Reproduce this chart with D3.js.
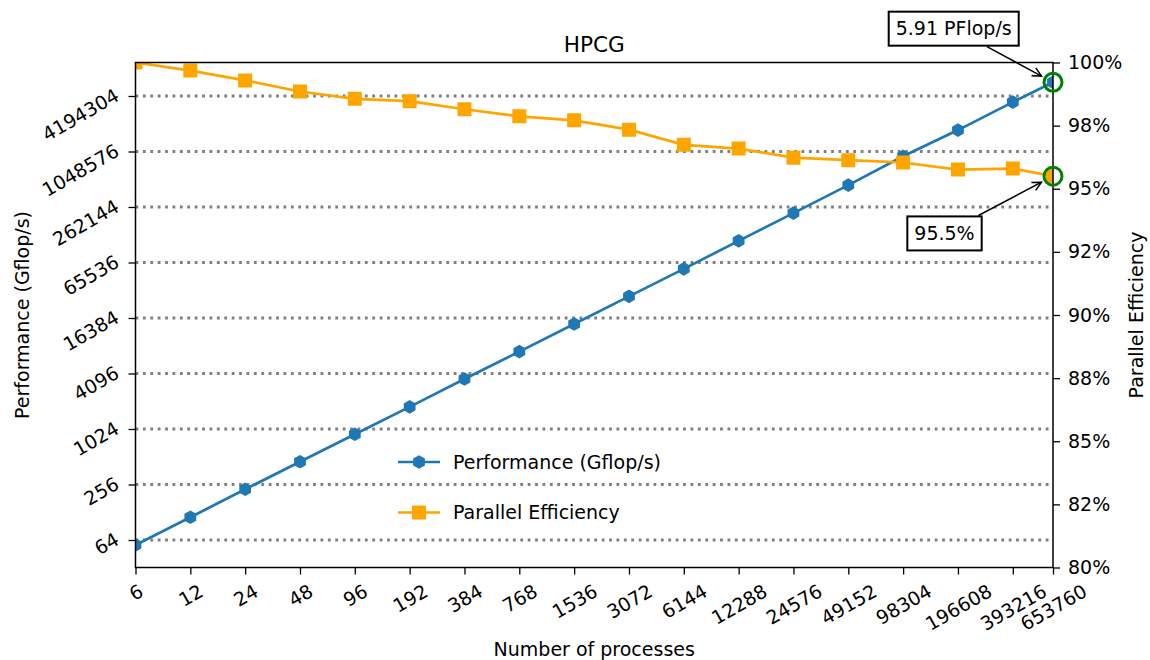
<!DOCTYPE html>
<html>
<head>
<meta charset="utf-8">
<script src="https://cdn.jsdelivr.net/npm/d3@7"></script>
<style>
  html, body { margin: 0; padding: 0; background: #fff; }
  svg { display: block; font-family: "DejaVu Sans", sans-serif; }
</style>
</head>
<body>
<svg id="chart" width="1150" height="660"></svg>
<script>
// HPCG weak scaling: performance and parallel efficiency vs. process count
const procs = [6, 12, 24, 48, 96, 192, 384, 768, 1536, 3072, 6144, 12288, 24576, 49152, 98304, 196608, 393216, 653760];
const perfGflops = [56.5, 113, 227, 452, 898, 1780, 3570, 7080, 14100, 28100, 55900, 112500, 225000, 453000, 930000, 1790000, 3600000, 5910000];
const efficiency = [100, 99.68, 99.29, 98.85, 98.56, 98.47, 98.15, 97.87, 97.71, 97.34, 96.74, 96.59, 96.23, 96.13, 96.04, 95.76, 95.80, 95.5];
const perfTicks = [64, 256, 1024, 4096, 16384, 65536, 262144, 1048576, 4194304];
const effTicks = [80, 82.5, 85, 87.5, 90, 92.5, 95, 97.5, 100];
const effTickLabels = ["80%", "82%", "85%", "88%", "90%", "92%", "95%", "98%", "100%"];
const seriesNames = ["Performance (Gflop/s)", "Parallel Efficiency"];
const peakLabel = "5.91 PFlop/s";
const effLabel = "95.5%";

const W = 1150, H = 660;
const area = { left: 135.5, right: 1053, top: 62.5, bottom: 567.5 };
const BLUE = "#1f77b4", ORANGE = "#ffa500", GREEN = "#008000", GRID = "#808080";
const FS = 19;

const svg = d3.select("#chart");
svg.append("rect").attr("width", W).attr("height", H).attr("fill", "#fff");

const x = d3.scaleLog().base(2).domain([procs[0], procs[procs.length - 1]]).range([area.left, area.right]);
const yPerf = d3.scaleLog().base(2).domain([32.2, 9.683e6]).range([area.bottom, area.top]);
const yEff = d3.scaleLinear().domain([80, 100]).range([area.bottom, area.top]);

svg.append("defs").append("clipPath").attr("id", "plotclip")
  .append("rect")
  .attr("x", area.left).attr("y", area.top)
  .attr("width", area.right - area.left).attr("height", area.bottom - area.top);

// dotted horizontal grid at the performance ticks
svg.append("g").selectAll("line").data(perfTicks).join("line")
  .attr("x1", area.left).attr("x2", area.right)
  .attr("y1", d => yPerf(d)).attr("y2", d => yPerf(d))
  .attr("stroke", GRID).attr("stroke-width", 2.8)
  .attr("stroke-dasharray", "2.8,4.6");

const data = procs.map((p, i) => ({ p, perf: perfGflops[i], eff: efficiency[i] }));

function hexPath(r) {
  const pts = d3.range(6).map(k => {
    const a = Math.PI / 2 + k * Math.PI / 3;
    return [r * Math.cos(a), r * Math.sin(a)];
  });
  return "M" + pts.map(p => p.join(",")).join("L") + "Z";
}
const squarePath = s => `M${-s / 2},${-s / 2}h${s}v${s}h${-s}Z`;

const plotG = svg.append("g").attr("clip-path", "url(#plotclip)");

// performance series
plotG.append("path").datum(data)
  .attr("fill", "none").attr("stroke", BLUE).attr("stroke-width", 2.7)
  .attr("d", d3.line().x(d => x(d.p)).y(d => yPerf(d.perf)));
plotG.append("g").selectAll("path").data(data).join("path")
  .attr("transform", d => `translate(${x(d.p)},${yPerf(d.perf)})`)
  .attr("d", hexPath(6.8)).attr("fill", BLUE);

// efficiency series
plotG.append("path").datum(data)
  .attr("fill", "none").attr("stroke", ORANGE).attr("stroke-width", 2.7)
  .attr("d", d3.line().x(d => x(d.p)).y(d => yEff(d.eff)));
plotG.append("g").selectAll("path").data(data).join("path")
  .attr("transform", d => `translate(${x(d.p)},${yEff(d.eff)})`)
  .attr("d", squarePath(14)).attr("fill", ORANGE);

// axes
function styleAxis(g) {
  g.select(".domain").remove();
  g.selectAll(".tick line").attr("stroke", "#000").attr("stroke-width", 1.3);
  g.selectAll(".tick text").attr("fill", "#000").attr("font-size", FS)
    .attr("font-family", "DejaVu Sans");
}

const xAxis = svg.append("g").attr("transform", `translate(0,${area.bottom})`)
  .call(d3.axisBottom(x).tickValues(procs).tickSize(7).tickFormat(d => String(d)))
  .call(styleAxis);
xAxis.selectAll(".tick text").each(function () {
  const t = d3.select(this);
  t.attr("y", null).attr("dy", null)
    .attr("text-anchor", "middle").attr("dominant-baseline", "central");
  const w = this.getComputedTextLength();
  const bh = w * 0.5 + 22 * 0.866;
  t.attr("transform", `translate(0,${12 + bh / 2}) rotate(-30)`);
});

const yAxisL = svg.append("g").attr("transform", `translate(${area.left},0)`)
  .call(d3.axisLeft(yPerf).tickValues(perfTicks).tickSize(7).tickFormat(d => String(d)))
  .call(styleAxis);
yAxisL.selectAll(".tick text")
  .attr("x", 0).attr("dy", 0).attr("text-anchor", "end")
  .attr("transform", "translate(-15,3) rotate(-30)");

svg.append("g").attr("transform", `translate(${area.right},0)`)
  .call(d3.axisRight(yEff).tickValues(effTicks).tickSize(7).tickPadding(8)
    .tickFormat((d, i) => effTickLabels[i]))
  .call(styleAxis);

// frame
svg.append("rect")
  .attr("x", area.left).attr("y", area.top)
  .attr("width", area.right - area.left).attr("height", area.bottom - area.top)
  .attr("fill", "none").attr("stroke", "#000").attr("stroke-width", 1.5);

// titles
svg.append("text").attr("x", (area.left + area.right) / 2).attr("y", 52)
  .attr("text-anchor", "middle").attr("font-size", 21.6).text("HPCG");
svg.append("text").attr("x", (area.left + area.right) / 2).attr("y", 656)
  .attr("text-anchor", "middle").attr("font-size", FS).text("Number of processes");
svg.append("text")
  .attr("transform", `translate(29,${(area.top + area.bottom) / 2}) rotate(-90)`)
  .attr("text-anchor", "middle").attr("font-size", FS).text(seriesNames[0]);
svg.append("text")
  .attr("transform", `translate(1143,${(area.top + area.bottom) / 2}) rotate(-90)`)
  .attr("text-anchor", "middle").attr("font-size", FS).text("Parallel Efficiency");

// legend
const legend = svg.append("g").attr("transform", "translate(398,462)");
[BLUE, ORANGE].forEach((c, i) => {
  const row = legend.append("g").attr("transform", `translate(0,${i * 50.5})`);
  row.append("line").attr("x1", 0).attr("x2", 42).attr("stroke", c).attr("stroke-width", 2.7);
  row.append("path").attr("transform", "translate(21,0)")
    .attr("d", i === 0 ? hexPath(6.8) : squarePath(14)).attr("fill", c);
  row.append("text").attr("x", 55).attr("y", 0).attr("dy", "0.35em")
    .attr("font-size", FS).text(seriesNames[i]);
});

// highlighted end points with callouts
const last = data[data.length - 1];
const pPerf = [x(last.p), yPerf(last.perf)];
const pEff = [x(last.p), yEff(last.eff)];

function callout(point, label, dx, dy) {
  const g = svg.append("g");
  const cx = point[0] + dx, cy = point[1] + dy;
  const txt = g.append("text").attr("x", cx).attr("y", cy).attr("dy", "0.35em")
    .attr("text-anchor", "middle").attr("font-size", FS).text(label);
  const w = txt.node().getComputedTextLength();
  const bw = w + 14, bh = 34;
  g.insert("rect", "text")
    .attr("x", cx - bw / 2).attr("y", cy - bh / 2).attr("width", bw).attr("height", bh)
    .attr("fill", "#fff").attr("stroke", "#000").attr("stroke-width", 2);
  // arrow from box edge towards the point
  const vx = point[0] - cx, vy = point[1] - cy;
  const len = Math.hypot(vx, vy);
  const ux = vx / len, uy = vy / len;
  const tEdge = Math.min((bw / 2) / Math.abs(vx), (bh / 2) / Math.abs(vy));
  const sx = cx + vx * tEdge + ux * 2, sy = cy + vy * tEdge + uy * 2;
  const ex = point[0] - ux * 13, ey = point[1] - uy * 13;
  g.append("line").attr("x1", sx).attr("y1", sy).attr("x2", ex).attr("y2", ey)
    .attr("stroke", "#000").attr("stroke-width", 1.5);
  const hl = 9, hw = 4.5;
  const bx = ex - ux * hl, by = ey - uy * hl;
  g.append("path")
    .attr("d", `M${bx - uy * hw},${by + ux * hw}L${ex},${ey}L${bx + uy * hw},${by - ux * hw}`)
    .attr("fill", "none").attr("stroke", "#000").attr("stroke-width", 1.5);
}
callout(pPerf, peakLabel, -99.3, -53.6);
callout(pEff, effLabel, -108.5, 57.3);

svg.append("g").selectAll("circle").data([pPerf, pEff]).join("circle")
  .attr("cx", d => d[0]).attr("cy", d => d[1]).attr("r", 9)
  .attr("fill", "none").attr("stroke", GREEN).attr("stroke-width", 3);
</script>
</body>
</html>
